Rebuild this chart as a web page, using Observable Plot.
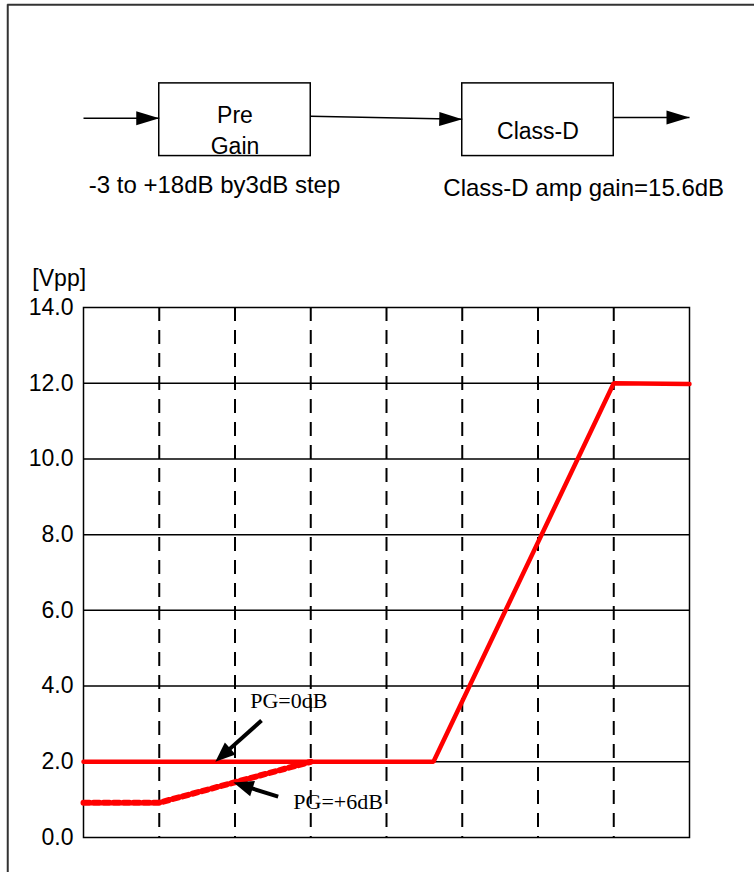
<!DOCTYPE html>
<html><head><meta charset="utf-8">
<script src="https://cdn.jsdelivr.net/npm/d3@7"></script>
<script src="https://cdn.jsdelivr.net/npm/@observablehq/plot@0.6"></script>
<style>body{margin:0;background:#fff}svg{display:block}</style>
</head><body><div id="chart"></div>
<script>
// ---- chart data ----
const yTicks = [0, 2, 4, 6, 8, 10, 12, 14];
const gridY = [2, 4, 6, 8, 10, 12];
const gridX = [1, 2, 3, 4, 5, 6, 7];
const pg0X = [0, 4.62, 7, 8];
const pg0Y = [2.0, 2.0, 12.0, 11.98];
const pg6X = [0, 1, 3];
const pg6Y = [0.92, 0.92, 2.0];
const yUnit = "[Vpp]";
const notes = ["PG=0dB", "PG=+6dB"];

// ---- block diagram (placed in chart units) ----
const blockX1 = [1, 5], blockX2 = [3, 7], blockY1 = [18.0, 18.0], blockY2 = [19.92, 19.92];
const blockText = ["Pre", "Gain", "Class-D"];
const blockTextX = [2, 2, 6], blockTextY = [19.07, 18.25, 18.64];
const flowX1 = [0, 3, 7], flowX2 = [1, 5, 8];
const flowY1 = [19.0, 19.05, 19.02], flowY2 = [19.0, 18.97, 19.02];
const captions = ["-3 to +18dB by3dB step", "Class-D amp gain=15.6dB"];
const captionX = [0.07, 4.75], captionY = [17.22, 17.14];
const noteX = [2.2, 2.77], noteY = [3.6, 0.95];
const pointerX1 = [2.35, 2.57], pointerY1 = [3.09, 1.08];
const pointerX2 = [1.74, 1.98], pointerY2 = [2.0, 1.45];

// ---- layout ----
const W = 754, H = 872, mL = 83, mR = 65, mT = 307, mB = 35;
const sx = d3.scaleLinear([0, 8], [mL, W - mR]);
const sy = d3.scaleLinear([0, 14], [H - mB, mT]);
const rot = (x1, y1, x2, y2) => Math.atan2(sx(x2) - sx(x1), -(sy(y2) - sy(y1))) * 180 / Math.PI;
function backOff(x1, y1, x2, y2, px) {
  const dx = sx(x2) - sx(x1), dy = sy(y2) - sy(y1), L = Math.hypot(dx, dy);
  return [sx.invert(sx(x2) - dx / L * px), sy.invert(sy(y2) - dy / L * px)];
}

const pg0 = pg0X.map((x, i) => ({x, y: pg0Y[i]}));
const pg6 = pg6X.map((x, i) => ({x, y: pg6Y[i]}));
const blocks = blockX1.map((x1, i) => ({x1, x2: blockX2[i], y1: blockY1[i], y2: blockY2[i]}));
const blockLabels = blockText.map((t, i) => ({t, x: blockTextX[i], y: blockTextY[i]}));
const flows = flowX1.map((x1, i) => ({x1, x2: flowX2[i], y1: flowY1[i], y2: flowY2[i],
  rot: rot(x1, flowY1[i], flowX2[i], flowY2[i])}));
const caps = captions.map((t, i) => ({t, x: captionX[i], y: captionY[i]}));
const noteRows = notes.map((t, i) => ({t, x: noteX[i], y: noteY[i]}));
const pointers = pointerX1.map((x1, i) => {
  const [bx, by] = backOff(x1, pointerY1[i], pointerX2[i], pointerY2[i], 10);
  return {x1, y1: pointerY1[i], x2: pointerX2[i], y2: pointerY2[i], bx, by,
    rot: rot(x1, pointerY1[i], pointerX2[i], pointerY2[i])};
});

const plot = Plot.plot({
  width: W, height: H,
  marginLeft: mL, marginRight: mR, marginTop: mT, marginBottom: mB,
  x: {domain: [0, 8], axis: null},
  y: {domain: [0, 14], axis: null},
  style: {fontFamily: "'Liberation Sans', Arial, sans-serif", fontSize: "23px", color: "black", background: "white", overflow: "visible"},
  marks: [
    // outer border (top & left)
    Plot.ruleY([22], {x1: -1, x2: 9.5, stroke: "#333", strokeWidth: 2}),
    Plot.ruleX([-1], {y1: 22, y2: -1, stroke: "#333", strokeWidth: 2}),
    // grid
    Plot.ruleY(gridY, {x1: 0, x2: 8, stroke: "black", strokeWidth: 1.5}),
    Plot.ruleX(gridX, {y1: 14, y2: 0, stroke: "black", strokeWidth: 2, strokeDasharray: "14,9"}),
    Plot.frame({stroke: "black", strokeWidth: 1.5}),
    Plot.axisY(yTicks, {tickFormat: d3.format(".1f"), tickSize: 0, tickPadding: 10, fontSize: 23, label: null}),
    Plot.text([yUnit], {x: -0.675, y: 14.77, text: d => d, textAnchor: "start", fontSize: 23}),
    // series
    Plot.line(pg6, {x: "x", y: "y", stroke: "red", strokeWidth: 6, strokeDasharray: "6,4"}),
    Plot.line(pg0, {x: "x", y: "y", stroke: "red", strokeWidth: 4.5, strokeLinejoin: "miter"}),
    // annotations
    Plot.link(pointers, {x1: "x1", y1: "y1", x2: "bx", y2: "by", stroke: "black", strokeWidth: 4}),
    Plot.vector(pointers, {x: "x2", y: "y2", rotate: "rot", length: 20, r: 8, shape: "spike", anchor: "end", fill: "black", fillOpacity: 1, stroke: "none"}),
    Plot.text(noteRows, {x: "x", y: "y", text: "t", textAnchor: "start", fontFamily: "'Liberation Serif', 'Times New Roman', serif", fontSize: 22}),
    // block diagram
    Plot.rect(blocks, {x1: "x1", x2: "x2", y1: "y1", y2: "y2", fill: "white", stroke: "black", strokeWidth: 1.5}),
    Plot.link(flows, {x1: "x1", y1: "y1", x2: "x2", y2: "y2", stroke: "black", strokeWidth: 1.5}),
    Plot.vector(flows, {x: "x2", y: "y2", rotate: "rot", length: 23, r: 7, shape: "spike", anchor: "end", fill: "black", fillOpacity: 1, stroke: "none"}),
    Plot.text(blockLabels, {x: "x", y: "y", text: "t", fontSize: 23}),
    Plot.text(caps, {x: "x", y: "y", text: "t", textAnchor: "start", fontSize: 24})
  ]
});
document.getElementById("chart").appendChild(plot);
</script>
</body></html>
